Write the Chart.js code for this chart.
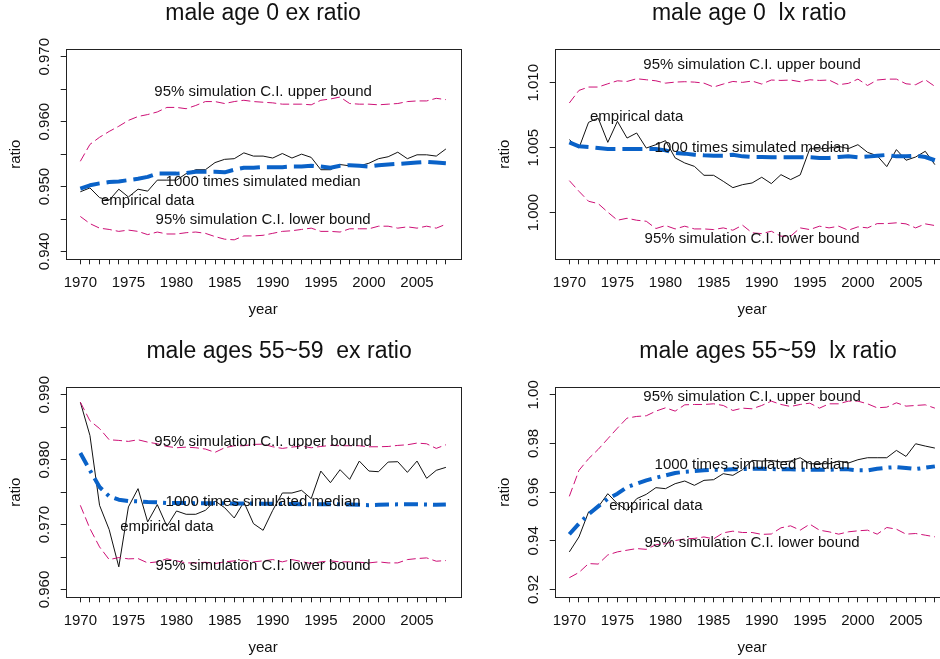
<!DOCTYPE html>
<html>
<head>
<meta charset="utf-8">
<script src="https://cdn.jsdelivr.net/npm/chart.js@4.4.1/dist/chart.umd.min.js"></script>
<style>
  html, body { margin: 0; padding: 0; background: #fff; }
  body { position: relative; width: 940px; height: 659px; overflow: hidden; }
  canvas { position: absolute; }
</style>
</head>
<body>
<canvas id="exAge0" width="489" height="330" style="left:-19px; top:0px"></canvas>
<canvas id="lxAge0" width="489" height="330" style="left:470px; top:0px"></canvas>
<canvas id="exAge55" width="489" height="330" style="left:-19px; top:337.5px"></canvas>
<canvas id="lxAge55" width="489" height="330" style="left:470px; top:337.5px"></canvas>
<script>
const years = [1970, 1971, 1972, 1973, 1974, 1975, 1976, 1977, 1978, 1979,
  1980, 1981, 1982, 1983, 1984, 1985, 1986, 1987, 1988, 1989,
  1990, 1991, 1992, 1993, 1994, 1995, 1996, 1997, 1998, 1999,
  2000, 2001, 2002, 2003, 2004, 2005, 2006, 2007, 2008];

// male age 0, ex ratio
const ex0Upper = [0.9539, 0.9565, 0.9576, 0.9585, 0.9593, 0.9602, 0.9608, 0.9611, 0.9615, 0.9622,
  0.9622, 0.9620, 0.9625, 0.9631, 0.9631, 0.9628, 0.9631, 0.9633, 0.9631, 0.9630,
  0.9629, 0.9627, 0.9627, 0.9627, 0.9626, 0.9633, 0.9635, 0.9638, 0.9628, 0.9627,
  0.9627, 0.9626, 0.9627, 0.9628, 0.9631, 0.9632, 0.9632, 0.9636, 0.9634];
const ex0Lower = [0.9454, 0.9443, 0.9436, 0.9434, 0.9431, 0.9433, 0.9431, 0.9426, 0.9430, 0.9427,
  0.9427, 0.9429, 0.9430, 0.9428, 0.9423, 0.9419, 0.9418, 0.9424, 0.9424, 0.9425,
  0.9428, 0.9431, 0.9432, 0.9434, 0.9436, 0.9431, 0.9431, 0.9430, 0.9435, 0.9435,
  0.9435, 0.9439, 0.9439, 0.9436, 0.9438, 0.9436, 0.9439, 0.9436, 0.9442];
const ex0Median = [0.9497, 0.9502, 0.9505, 0.9507, 0.9508, 0.9510, 0.9512, 0.9515, 0.9520, 0.9520,
  0.9520, 0.9521, 0.9523, 0.9523, 0.9523, 0.9522, 0.9526, 0.9529, 0.9529, 0.9530,
  0.9530, 0.9530, 0.9531, 0.9531, 0.9532, 0.9531, 0.9529, 0.9532, 0.9533, 0.9532,
  0.9531, 0.9533, 0.9534, 0.9535, 0.9536, 0.9537, 0.9538, 0.9537, 0.9536];
const ex0Empirical = [0.9492, 0.9498, 0.9483, 0.9479, 0.9496, 0.9484, 0.9496, 0.9493, 0.9510, 0.9510,
  0.9510, 0.9520, 0.9526, 0.9526, 0.9537, 0.9542, 0.9543, 0.9552, 0.9547, 0.9547,
  0.9544, 0.9551, 0.9544, 0.9550, 0.9545, 0.9526, 0.9526, 0.9534, 0.9532, 0.9532,
  0.9536, 0.9543, 0.9546, 0.9553, 0.9543, 0.9549, 0.9549, 0.9547, 0.9558];

// male age 0, lx ratio
const lx0Upper = [1.00844, 1.00941, 1.00967, 1.00967, 1.00992, 1.01015, 1.01010, 1.01031, 1.01023, 1.01015,
  1.00997, 1.01005, 1.01008, 1.01005, 1.00997, 1.00967, 1.00990, 1.01010, 1.01003, 1.01013,
  1.00990, 1.01021, 1.01018, 1.01021, 1.01008, 1.01023, 1.01018, 1.01021, 1.00985, 1.00995,
  1.01028, 1.00979, 1.01021, 1.01028, 1.01028, 1.00992, 1.00985, 1.01023, 1.00972];
const lx0Lower = [1.00246, 1.00164, 1.00087, 1.00069, 1.00003, 0.99941, 0.99956, 0.99941, 0.99933, 0.99877,
  0.99900, 0.99874, 0.99895, 0.99874, 0.99874, 0.99869, 0.99882, 0.99864, 0.99903, 0.99844,
  0.99838, 0.99856, 0.99818, 0.99818, 0.99882, 0.99869, 0.99895, 0.99882, 0.99895, 0.99864,
  0.99890, 0.99882, 0.99915, 0.99915, 0.99921, 0.99913, 0.99882, 0.99913, 0.99900];
const lx0Median = [1.00541, 1.00510, 1.00505, 1.00497, 1.00490, 1.00490, 1.00490, 1.00490, 1.00490, 1.00490,
  1.00479, 1.00459, 1.00454, 1.00446, 1.00441, 1.00438, 1.00438, 1.00446, 1.00433, 1.00428,
  1.00428, 1.00426, 1.00426, 1.00426, 1.00426, 1.00426, 1.00421, 1.00421, 1.00428, 1.00433,
  1.00426, 1.00431, 1.00438, 1.00444, 1.00433, 1.00433, 1.00438, 1.00428, 1.00403];
const lx0Empirical = [1.00562, 1.00497, 1.00695, 1.00728, 1.00541, 1.00703, 1.00574, 1.00613, 1.00497, 1.00523,
  1.00554, 1.00421, 1.00382, 1.00356, 1.00287, 1.00287, 1.00241, 1.00192, 1.00215, 1.00228,
  1.00272, 1.00223, 1.00292, 1.00254, 1.00290, 1.00492, 1.00490, 1.00497, 1.00510, 1.00492,
  1.00523, 1.00464, 1.00438, 1.00354, 1.00485, 1.00403, 1.00428, 1.00472, 1.00369];

// male ages 55~59, ex ratio
const ex55Upper = [0.98887, 0.98600, 0.98480, 0.98307, 0.98297, 0.98282, 0.98307, 0.98271, 0.98245, 0.98204,
  0.98184, 0.98194, 0.98184, 0.98164, 0.98113, 0.98184, 0.98215, 0.98215, 0.98235, 0.98240,
  0.98199, 0.98174, 0.98194, 0.98210, 0.98184, 0.98204, 0.98220, 0.98215, 0.98215, 0.98215,
  0.98199, 0.98199, 0.98204, 0.98220, 0.98230, 0.98256, 0.98245, 0.98174, 0.98230];
const ex55Lower = [0.97297, 0.96938, 0.96656, 0.96461, 0.96492, 0.96472, 0.96477, 0.96410, 0.96426, 0.96472,
  0.96441, 0.96410, 0.96410, 0.96420, 0.96400, 0.96426, 0.96441, 0.96451, 0.96426, 0.96441,
  0.96461, 0.96426, 0.96461, 0.96431, 0.96400, 0.96426, 0.96441, 0.96426, 0.96426, 0.96420,
  0.96410, 0.96426, 0.96410, 0.96410, 0.96461, 0.96477, 0.96487, 0.96436, 0.96446];
const ex55Median = [0.98103, 0.97835, 0.97579, 0.97436, 0.97384, 0.97364, 0.97359, 0.97349, 0.97343, 0.97333,
  0.97333, 0.97333, 0.97330, 0.97330, 0.97330, 0.97328, 0.97325, 0.97325, 0.97325, 0.97322,
  0.97320, 0.97318, 0.97318, 0.97315, 0.97315, 0.97315, 0.97312, 0.97312, 0.97310, 0.97305,
  0.97300, 0.97305, 0.97310, 0.97312, 0.97312, 0.97312, 0.97310, 0.97305, 0.97310];
const ex55Empirical = [0.98887, 0.98373, 0.97297, 0.96923, 0.96349, 0.97272, 0.97554, 0.97041, 0.97308, 0.96974,
  0.97210, 0.97159, 0.97159, 0.97220, 0.97364, 0.97261, 0.97102, 0.97348, 0.97015, 0.96912,
  0.97220, 0.97487, 0.97487, 0.97528, 0.97400, 0.97825, 0.97646, 0.97846, 0.97697, 0.97979,
  0.97825, 0.97815, 0.97964, 0.97969, 0.97805, 0.97979, 0.97713, 0.97836, 0.97882];

// male ages 55~59, lx ratio
const lx55Upper = [0.95828, 0.96894, 0.97373, 0.97756, 0.98194, 0.98631, 0.99042, 0.99110, 0.99138, 0.99329,
  0.99465, 0.99329, 0.99588, 0.99602, 0.99602, 0.99629, 0.99561, 0.99356, 0.99451, 0.99424,
  0.99561, 0.99739, 0.99602, 0.99520, 0.99602, 0.99656, 0.99451, 0.99629, 0.99629, 0.99739,
  0.99739, 0.99629, 0.99465, 0.99492, 0.99670, 0.99534, 0.99561, 0.99588, 0.99451];
const lx55Lower = [0.92485, 0.92700, 0.93065, 0.93045, 0.93420, 0.93545, 0.93615, 0.93682, 0.93650, 0.93840,
  0.93880, 0.94010, 0.94080, 0.94100, 0.94160, 0.94080, 0.94329, 0.94397, 0.94342, 0.94342,
  0.94265, 0.94280, 0.94534, 0.94616, 0.94438, 0.94685, 0.94438, 0.94370, 0.94274, 0.94370,
  0.94411, 0.94438, 0.94274, 0.94548, 0.94479, 0.94274, 0.94301, 0.94233, 0.94164];
const lx55Median = [0.94269, 0.94706, 0.95090, 0.95417, 0.95732, 0.95937, 0.96211, 0.96348, 0.96484, 0.96594,
  0.96689, 0.96785, 0.96840, 0.96867, 0.96895, 0.96922, 0.96922, 0.96936, 0.96949, 0.96963,
  0.96963, 0.96949, 0.96936, 0.96936, 0.96922, 0.96922, 0.96922, 0.96922, 0.96936, 0.96936,
  0.96895, 0.96895, 0.96963, 0.97004, 0.97031, 0.96990, 0.96949, 0.97004, 0.97059];
const lx55Empirical = [0.93544, 0.94159, 0.95185, 0.95390, 0.95937, 0.95527, 0.95253, 0.95732, 0.95910, 0.96184,
  0.96143, 0.96348, 0.96458, 0.96280, 0.96485, 0.96512, 0.96758, 0.96690, 0.96922, 0.97304,
  0.97277, 0.97304, 0.97236, 0.97277, 0.97414, 0.97168, 0.97168, 0.97168, 0.97277, 0.97195,
  0.97332, 0.97414, 0.97414, 0.97414, 0.97715, 0.97468, 0.97988, 0.97893, 0.97811];

// y axis ticks and their labels (blank = tick mark only)
const ex0Ticks = [0.940, 0.945, 0.950, 0.955, 0.960, 0.965, 0.970];
const ex0TickLabels = ['0.940', '', '0.950', '', '0.960', '', '0.970'];
const lx0Ticks = [1.000, 1.005, 1.010];
const lx0TickLabels = ['1.000', '1.005', '1.010'];
const ex55Ticks = [0.960, 0.965, 0.970, 0.975, 0.980, 0.985, 0.990];
const ex55TickLabels = ['0.960', '', '0.970', '', '0.980', '', '0.990'];
const lx55Ticks = [0.92, 0.94, 0.96, 0.98, 1.00];
const lx55TickLabels = ['0.92', '0.94', '0.96', '0.98', '1.00'];

const FONT = '"Liberation Sans", Arial, Helvetica, sans-serif';
const INK = '#111';
const PINK = '#CD1076';
const BLUE = '#0A62C8';

Chart.defaults.font.family = FONT;
Chart.defaults.color = INK;

// frame box, rotated y labels, line notes and the panel title
const rStyle = {
  id: 'rStyle',
  afterDatasetsDraw(chart, args, opts) {
    const { ctx, chartArea: a, scales } = chart;
    ctx.save();

    ctx.strokeStyle = '#222';
    ctx.lineWidth = 1;
    ctx.strokeRect(Math.round(a.left) + 0.5, Math.round(a.top) + 0.5,
      Math.round(a.right - a.left), Math.round(a.bottom - a.top));

    ctx.fillStyle = INK;
    ctx.font = '15px ' + FONT;
    ctx.textAlign = 'center';
    ctx.textBaseline = 'middle';
    opts.notes.forEach(n => {
      ctx.fillText(n.text, scales.x.getPixelForValue(n.x), scales.y.getPixelForValue(n.y));
    });

    scales.y.ticks.forEach((t, i) => {
      const label = opts.yLabels[i];
      if (!label) return;
      ctx.save();
      ctx.translate(a.left - 20.5, scales.y.getPixelForValue(t.value));
      ctx.rotate(-Math.PI / 2);
      ctx.fillText(label, 0, 0);
      ctx.restore();
    });

    ctx.font = '23px ' + FONT;
    ctx.textBaseline = 'alphabetic';
    ctx.fillText(opts.title, (a.left + a.right) / 2 + opts.titleShift, 20);
    ctx.restore();
  }
};

function points(values) {
  return years.map((yr, i) => ({ x: yr, y: values[i] }));
}

function panel(id, cfg) {
  const axisFont = { family: FONT, size: 15 };
  new Chart(document.getElementById(id), {
    type: 'line',
    data: {
      datasets: [
        { label: '95% simulation C.I. lower bound', data: points(cfg.lower),
          borderColor: PINK, borderWidth: 1, borderDash: [9, 4] },
        { label: '95% simulation C.I. upper bound', data: points(cfg.upper),
          borderColor: PINK, borderWidth: 1, borderDash: [9, 4] },
        { label: '1000 times simulated median', data: points(cfg.median),
          borderColor: BLUE, borderWidth: 4, borderDash: cfg.medianDash },
        { label: 'empirical data', data: points(cfg.empirical),
          borderColor: INK, borderWidth: 1 }
      ]
    },
    options: {
      responsive: false,
      animation: false,
      devicePixelRatio: 1,
      events: [],
      layout: { padding: { top: 49, right: 9.5, left: 0, bottom: 0 } },
      elements: {
        point: { radius: 0 },
        line: { tension: 0, fill: false, borderJoinStyle: 'round' }
      },
      scales: {
        x: {
          type: 'linear',
          min: 1968.48,
          max: 2009.52,
          afterBuildTicks: s => { s.ticks = years.map(v => ({ value: v })); },
          afterFit: s => { s.height = 70.7; },
          ticks: {
            autoSkip: false, maxRotation: 0, padding: 10, color: INK, font: axisFont,
            callback: v => (v % 5 === 0 ? String(v) : '')
          },
          grid: { drawOnChartArea: false, tickLength: 5, color: '#222' },
          border: { display: false },
          title: { display: true, text: 'year', color: INK, font: axisFont, padding: { top: 0, bottom: 11 } }
        },
        y: {
          min: cfg.yMin,
          max: cfg.yMax,
          afterBuildTicks: s => { s.ticks = cfg.yTicks.map(v => ({ value: v })); },
          afterFit: s => { s.width = 84.7; },
          ticks: { display: false },
          grid: { drawOnChartArea: false, tickLength: 5, color: '#222' },
          border: { display: false },
          title: { display: true, text: 'ratio', color: INK, font: axisFont, padding: { top: 25.5, bottom: 0 } }
        }
      },
      plugins: {
        legend: { display: false },
        tooltip: { enabled: false },
        rStyle: {
          title: cfg.title,
          titleShift: cfg.titleShift,
          yLabels: cfg.yLabels,
          notes: cfg.notes
        }
      }
    },
    plugins: [rStyle]
  });
}

panel('exAge0', {
  title: 'male age 0 ex ratio', titleShift: 0,
  upper: ex0Upper, lower: ex0Lower, median: ex0Median, empirical: ex0Empirical,
  medianDash: [20, 7],
  yMin: 0.9388, yMax: 0.9712, yTicks: ex0Ticks, yLabels: ex0TickLabels,
  notes: [
    { text: '95% simulation C.I. upper bound', x: 1989, y: 0.9646 },
    { text: '1000 times simulated median', x: 1989, y: 0.9508 },
    { text: 'empirical data', x: 1977, y: 0.9478 },
    { text: '95% simulation C.I. lower bound', x: 1989, y: 0.9448 }
  ]
});

panel('lxAge0', {
  title: 'male age 0  lx ratio', titleShift: -3,
  upper: lx0Upper, lower: lx0Lower, median: lx0Median, empirical: lx0Empirical,
  medianDash: [20, 7],
  yMin: 0.99640, yMax: 1.01260, yTicks: lx0Ticks, yLabels: lx0TickLabels,
  notes: [
    { text: '95% simulation C.I. upper bound', x: 1989, y: 1.01140 },
    { text: '1000 times simulated median', x: 1989, y: 1.00495 },
    { text: 'empirical data', x: 1977, y: 1.00738 },
    { text: '95% simulation C.I. lower bound', x: 1989, y: 0.99797 }
  ]
});

panel('exAge55', {
  title: 'male ages 55~59  ex ratio', titleShift: 16,
  upper: ex55Upper, lower: ex55Lower, median: ex55Median, empirical: ex55Empirical,
  medianDash: [14, 6, 3, 6],
  yMin: 0.9588, yMax: 0.9912, yTicks: ex55Ticks, yLabels: ex55TickLabels,
  notes: [
    { text: '95% simulation C.I. upper bound', x: 1989, y: 0.98272 },
    { text: '1000 times simulated median', x: 1989, y: 0.97358 },
    { text: 'empirical data', x: 1979, y: 0.96964 },
    { text: '95% simulation C.I. lower bound', x: 1989, y: 0.96368 }
  ]
});

panel('lxAge55', {
  title: 'male ages 55~59  lx ratio', titleShift: 16,
  upper: lx55Upper, lower: lx55Lower, median: lx55Median, empirical: lx55Empirical,
  medianDash: [14, 6, 3, 6],
  yMin: 0.9168, yMax: 1.0032, yTicks: lx55Ticks, yLabels: lx55TickLabels,
  notes: [
    { text: '95% simulation C.I. upper bound', x: 1989, y: 0.99925 },
    { text: '1000 times simulated median', x: 1989, y: 0.97125 },
    { text: 'empirical data', x: 1979, y: 0.95440 },
    { text: '95% simulation C.I. lower bound', x: 1989, y: 0.93910 }
  ]
});
</script>
</body>
</html>
